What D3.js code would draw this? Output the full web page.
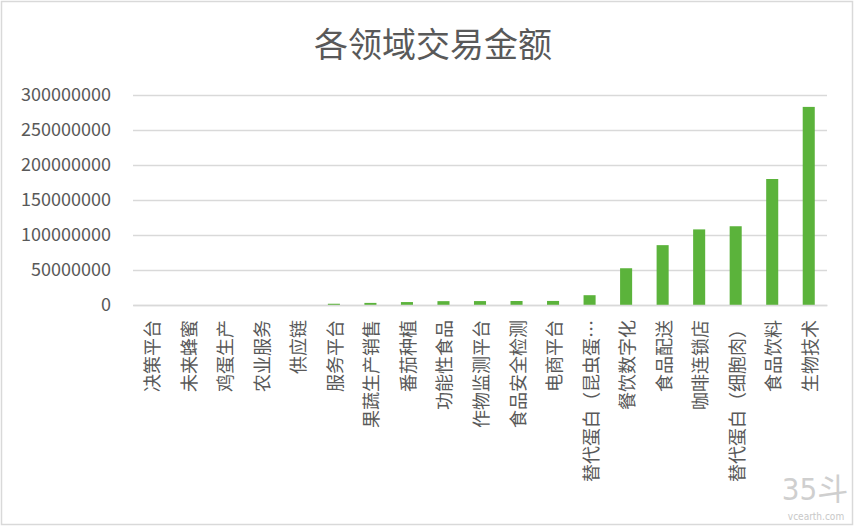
<!DOCTYPE html>
<html>
<head>
<meta charset="utf-8">
<script src="https://cdn.jsdelivr.net/npm/d3@7"></script>
<style>
  html, body { margin: 0; padding: 0; background: #fff; }
  svg { display: block; }
  text { font-family: "Noto Sans CJK SC", "Noto Sans", sans-serif; fill: #595959; }
</style>
</head>
<body>
<svg id="chart" width="856" height="530"></svg>
<script>
const title = "各领域交易金额";
const categories = [
  "决策平台", "未来蜂蜜", "鸡蛋生产", "农业服务", "供应链",
  "服务平台", "果蔬生产销售", "番茄种植", "功能性食品", "作物监测平台",
  "食品安全检测", "电商平台", "替代蛋白（昆虫蛋…", "餐饮数字化", "食品配送",
  "咖啡连锁店", "替代蛋白（细胞肉）", "食品饮料", "生物技术"
];
const amounts = [
  0, 0, 0, 0, 0,
  1800000, 3000000, 4200000, 5500000, 5600000,
  5700000, 5800000, 14000000, 52500000, 85500000,
  108000000, 112500000, 180000000, 283000000
];
const yTicks = [0, 50000000, 100000000, 150000000, 200000000, 250000000, 300000000];

const svg = d3.select("#chart");

// outer frame
svg.append("rect")
  .attr("x", 1.5).attr("y", 1.5)
  .attr("width", 851).attr("height", 523)
  .attr("fill", "none").attr("stroke", "#d9d9d9").attr("stroke-width", 1.5);

const x = d3.scaleBand()
  .domain(categories)
  .range([133, 827])
  .paddingInner(0.67)
  .paddingOuter(0.335);

const y = d3.scaleLinear()
  .domain([0, 300000000])
  .range([305, 95]);

// title
svg.append("text")
  .attr("x", 433).attr("y", 57)
  .attr("text-anchor", "middle")
  .style("font-size", "34px")
  .text(title);

// gridlines + y labels
const yAxis = d3.axisLeft(y).tickValues(yTicks).tickSize(-(827 - 133)).tickPadding(22).tickFormat(d3.format("d"));
const gy = svg.append("g").attr("transform", "translate(133,0)").call(yAxis);
gy.select(".domain").remove();
gy.selectAll(".tick line").attr("stroke", "#d9d9d9").attr("stroke-width", 1.4);
gy.selectAll(".tick text")
  .style("font-size", "18px")
  .style("fill", "#595959")
  .attr("font-family", null);

// bars
svg.append("g").selectAll("rect")
  .data(amounts)
  .join("rect")
  .attr("x", (d, i) => x(categories[i]))
  .attr("width", x.bandwidth())
  .attr("y", d => y(d))
  .attr("height", d => y(0) - y(d))
  .attr("fill", "#5bb33b");

// category labels
const xAxis = d3.axisBottom(x).tickSize(0).tickPadding(0);
const gx = svg.append("g").attr("transform", "translate(0,305)").call(xAxis);
gx.select(".domain").attr("stroke", "#d9d9d9").attr("stroke-width", 1.4);
gx.selectAll(".tick text")
  .attr("transform", "translate(0,15) rotate(-90)")
  .attr("text-anchor", "end")
  .attr("dy", null)
  .attr("y", 0)
  .attr("x", 0)
  .attr("dominant-baseline", "central")
  .style("font-size", "18px")
  .style("fill", "#595959");

// watermark
svg.append("text")
  .attr("x", 815).attr("y", 500)
  .attr("text-anchor", "middle")
  .style("font-family", "'Liberation Sans Narrow', 'DejaVu Sans Condensed', 'Noto Sans CJK SC', sans-serif")
  .style("font-size", "31px")
  .style("fill", "#cfcfcf")
  .text("35斗");
svg.append("text")
  .attr("x", 816).attr("y", 520)
  .attr("text-anchor", "middle")
  .style("font-family", "'Liberation Sans Narrow', 'DejaVu Sans Condensed', sans-serif")
  .style("font-size", "10px")
  .style("fill", "#c8c8c8")
  .text("vcearth.com");
</script>
</body>
</html>
